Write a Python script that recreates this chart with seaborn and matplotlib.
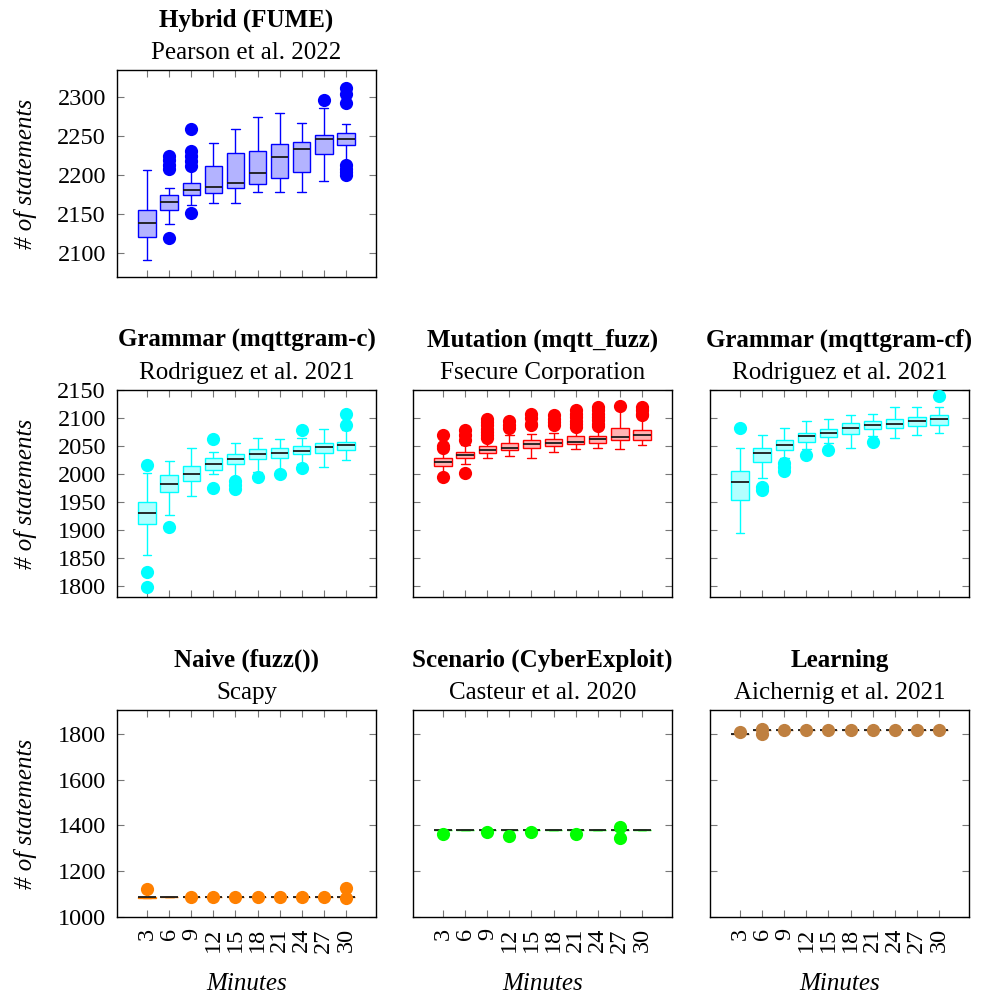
import numpy as np
import pandas as pd
import matplotlib
matplotlib.use("Agg")
import matplotlib.pyplot as plt
import matplotlib.transforms as mtrans
import seaborn as sns

# ---------------- data ----------------
minutes = [3, 6, 9, 12, 15, 18, 21, 24, 27, 30]

# Hybrid (FUME)
fume_lo = [2092, 2138, 2162, 2164, 2164, 2178, 2178, 2179, 2192, 2215]
fume_q1 = [2121, 2156, 2175, 2177, 2184, 2189, 2196, 2204, 2227, 2239]
fume_med = [2139, 2165, 2181, 2185, 2190, 2203, 2223, 2234, 2246, 2246]
fume_q3 = [2155, 2174, 2190, 2212, 2228, 2231, 2240, 2242, 2251, 2254]
fume_hi = [2206, 2184, 2209, 2241, 2259, 2275, 2279, 2267, 2286, 2265]
fume_out_x = [6, 6, 6, 6, 6, 9, 9, 9, 9, 9, 9, 27, 30, 30, 30, 30, 30, 30, 30]
fume_out_y = [2225, 2219, 2213, 2208, 2119, 2259, 2231, 2224, 2218, 2212, 2152,
              2296, 2311, 2304, 2292, 2213, 2208, 2204, 2200]

# Grammar (mqttgram-c)
gc_lo = [1856, 1927, 1961, 2000, 1992, 2003, 2006, 2018, 2013, 2025]
gc_q1 = [1911, 1967, 1988, 2007, 2018, 2027, 2029, 2035, 2038, 2043]
gc_med = [1931, 1983, 2000, 2017, 2027, 2036, 2037, 2041, 2048, 2051]
gc_q3 = [1950, 1998, 2015, 2028, 2036, 2044, 2047, 2050, 2055, 2058]
gc_hi = [2001, 2024, 2046, 2040, 2055, 2064, 2062, 2065, 2080, 2079]
gc_out_x = [3, 3, 3, 6, 12, 12, 15, 15, 15, 18, 21, 24, 24, 30, 30]
gc_out_y = [2016, 1825, 1799, 1905, 2063, 1975, 1987, 1980, 1974, 1994, 2000,
            2078, 2010, 2108, 2087]

# Mutation (mqtt_fuzz)
mf_lo = [2000, 2017, 2028, 2033, 2029, 2040, 2044, 2047, 2045, 2052]
mf_q1 = [2015, 2028, 2037, 2042, 2047, 2050, 2053, 2055, 2061, 2060]
mf_med = [2022, 2034, 2043, 2047, 2053, 2056, 2058, 2062, 2066, 2070]
mf_q3 = [2028, 2040, 2050, 2056, 2060, 2063, 2067, 2068, 2083, 2078]
mf_hi = [2043, 2052, 2062, 2069, 2072, 2073, 2079, 2081, 2118, 2103]
mf_out_x = [3, 3, 3, 3, 6, 6, 6, 6, 9, 9, 9, 9, 9, 9, 9, 12, 12, 12,
            15, 15, 15, 15, 18, 18, 18, 18, 21, 21, 21, 21, 21, 21,
            24, 24, 24, 24, 24, 24, 24, 27, 30, 30, 30, 30]
mf_out_y = [2069, 2050, 2047, 1994, 2079, 2070, 2061, 2002,
            2099, 2093, 2087, 2081, 2075, 2069, 2064, 2094, 2088, 2082,
            2107, 2100, 2090, 2087, 2105, 2099, 2093, 2087,
            2114, 2108, 2101, 2095, 2089, 2084,
            2120, 2114, 2108, 2102, 2096, 2090, 2085, 2121,
            2120, 2114, 2108, 2105]

# Grammar (mqttgram-cf)
gcf_lo = [1894, 1992, 2028, 2045, 2055, 2047, 2068, 2065, 2069, 2073]
gcf_q1 = [1954, 2021, 2043, 2058, 2066, 2071, 2080, 2082, 2086, 2088]
gcf_med = [1985, 2037, 2052, 2067, 2074, 2082, 2088, 2090, 2094, 2098]
gcf_q3 = [2005, 2046, 2060, 2073, 2081, 2091, 2094, 2098, 2101, 2105]
gcf_hi = [2047, 2069, 2082, 2095, 2099, 2105, 2107, 2120, 2119, 2119]
gcf_out_x = [3, 6, 6, 9, 9, 9, 12, 15, 21, 30]
gcf_out_y = [2083, 1977, 1972, 2019, 2012, 2005, 2034, 2043, 2058, 2140]

# Naive (fuzz())
nv_lo = [1085, 1088, 1088, 1088, 1088, 1088, 1088, 1088, 1088, 1088]
nv_q1 = [1085, 1088, 1088, 1088, 1088, 1088, 1088, 1088, 1088, 1088]
nv_med = [1087, 1088, 1088, 1088, 1088, 1088, 1088, 1088, 1088, 1088]
nv_q3 = [1088, 1088, 1088, 1088, 1088, 1088, 1088, 1088, 1088, 1088]
nv_hi = [1088, 1088, 1088, 1088, 1088, 1088, 1088, 1088, 1088, 1088]
nv_out_x = [3, 9, 12, 15, 18, 21, 24, 27, 30, 30]
nv_out_y = [1122, 1086, 1086, 1086, 1086, 1088, 1086, 1086, 1127, 1085]

# Scenario (CyberExploit)
sc_lo = [1379] * 10
sc_q1 = [1379] * 10
sc_med = [1379] * 10
sc_q3 = [1379] * 10
sc_hi = [1379] * 10
sc_out_x = [3, 9, 12, 15, 21, 27, 27]
sc_out_y = [1361, 1372, 1353, 1369, 1362, 1394, 1343]

# Learning
ln_lo = [1799, 1816, 1816, 1816, 1816, 1816, 1816, 1816, 1816, 1816]
ln_q1 = [1799, 1816, 1816, 1816, 1816, 1816, 1816, 1816, 1816, 1816]
ln_med = [1799, 1816, 1816, 1816, 1816, 1816, 1816, 1816, 1816, 1816]
ln_q3 = [1799, 1816, 1816, 1816, 1816, 1816, 1816, 1816, 1816, 1816]
ln_hi = [1799, 1816, 1816, 1816, 1816, 1816, 1816, 1816, 1816, 1816]
ln_out_x = [3, 6, 6, 9, 12, 15, 18, 21, 24, 27, 30]
ln_out_y = [1806, 1821, 1800, 1817, 1817, 1817, 1817, 1817, 1817, 1817, 1817]

titles = ["Hybrid (FUME)", "Grammar (mqttgram-c)", "Mutation (mqtt_fuzz)",
          "Grammar (mqttgram-cf)", "Naive (fuzz())", "Scenario (CyberExploit)",
          "Learning"]
subtitles = ["Pearson et al. 2022", "Rodriguez et al. 2021", "Fsecure Corporation",
             "Rodriguez et al. 2021", "Scapy", "Casteur et al. 2020",
             "Aichernig et al. 2021"]

# ---------------- style ----------------
sns.set_theme(style="white")
plt.rcParams['font.family'] = ['Liberation Serif', 'DejaVu Serif']
plt.rcParams['text.color'] = 'black'
plt.rcParams['axes.labelcolor'] = 'black'
plt.rcParams['xtick.color'] = 'black'
plt.rcParams['ytick.color'] = 'black'

fig = plt.figure(figsize=(9.9, 9.98), dpi=100)
W, H = 990.0, 998.0
col_left = [117, 413, 710]
row_top = [70, 390, 710]
aw, ah = 259, 207

row_ylim = [(2069.6, 2334.6), (1780.4, 2150), (1000, 1903.5)]
row_yticks = [[2100, 2150, 2200, 2250, 2300],
              [1800, 1850, 1900, 1950, 2000, 2050, 2100, 2150],
              [1000, 1200, 1400, 1600, 1800]]

panels = [
    (0, 0, fume_lo, fume_q1, fume_med, fume_q3, fume_hi, fume_out_x, fume_out_y, "#0000ff", "#b3b3ff"),
    (1, 0, gc_lo, gc_q1, gc_med, gc_q3, gc_hi, gc_out_x, gc_out_y, "#00ffff", "#b3ffff"),
    (1, 1, mf_lo, mf_q1, mf_med, mf_q3, mf_hi, mf_out_x, mf_out_y, "#ff0000", "#ffb3b3"),
    (1, 2, gcf_lo, gcf_q1, gcf_med, gcf_q3, gcf_hi, gcf_out_x, gcf_out_y, "#00ffff", "#b3ffff"),
    (2, 0, nv_lo, nv_q1, nv_med, nv_q3, nv_hi, nv_out_x, nv_out_y, "#ff8000", "#ffd9b3"),
    (2, 1, sc_lo, sc_q1, sc_med, sc_q3, sc_hi, sc_out_x, sc_out_y, "#00ff00", "#b3ffb3"),
    (2, 2, ln_lo, ln_q1, ln_med, ln_q3, ln_hi, ln_out_x, ln_out_y, "#bf8040", "#ecd9c6"),
]

for i, (r, c, lo, q1, med, q3, hi, ox, oy, lc, fc) in enumerate(panels):
    rect = [col_left[c] / W, 1 - (row_top[r] + ah) / H, aw / W, ah / H]
    ax = fig.add_axes(rect)
    df = pd.DataFrame({
        "minute": np.repeat(minutes, 5),
        "value": np.column_stack([lo, q1, med, q3, hi]).ravel(),
    })
    sns.boxplot(data=df, x="minute", y="value", order=minutes, whis=(0, 100),
                width=0.79, color=fc, linecolor=lc, linewidth=1.0, saturation=1,
                showfliers=False,
                medianprops=dict(color="#1a1a1a", linewidth=1.3),
                ax=ax)
    odf = pd.DataFrame({"minute": ox, "value": oy})
    sns.stripplot(data=odf, x="minute", y="value", order=minutes, jitter=False,
                  color=lc, size=9.5, linewidth=0, ax=ax, zorder=4)

    ax.set_xlim(-1.36, 10.36)
    ax.set_ylim(*row_ylim[r])
    ax.set_yticks(row_yticks[r])
    ax.tick_params(axis="both", direction="in", top=True, right=True, bottom=True,
                   left=True, length=5, width=0.8, color="#777777",
                   labelsize=17.5, pad=8, labelcolor="black")
    for s in ax.spines.values():
        s.set_color("black")
        s.set_linewidth(1.0)
        s.set_visible(True)
    ax.set_xlabel("")
    ax.set_ylabel("")
    if r < 2:
        ax.tick_params(axis="x", labelbottom=False)
    else:
        ax.tick_params(axis="x", labelrotation=90)
        ax.set_xlabel("Minutes", fontstyle="italic", fontsize=18, color="black")
        ax.xaxis.set_label_coords(0.5, -0.27)
    if c > 0:
        ax.tick_params(axis="y", labelleft=False)
    else:
        ax.set_ylabel("# of statements", fontstyle="italic", fontsize=18, color="black")
        ax.yaxis.set_label_coords(-0.309, 0.5)

    tr_sub = mtrans.offset_copy(ax.transAxes, fig=fig, x=0, y=11, units="dots")
    tr_tit = mtrans.offset_copy(ax.transAxes, fig=fig, x=0, y=43, units="dots")
    ax.text(0.5, 1.0, subtitles[i], transform=tr_sub, ha="center", va="baseline",
            fontsize=18, color="black")
    ax.text(0.5, 1.0, titles[i], transform=tr_tit, ha="center", va="baseline",
            fontsize=18, fontweight="bold", color="black")

fig.savefig("out.png", dpi=100)
